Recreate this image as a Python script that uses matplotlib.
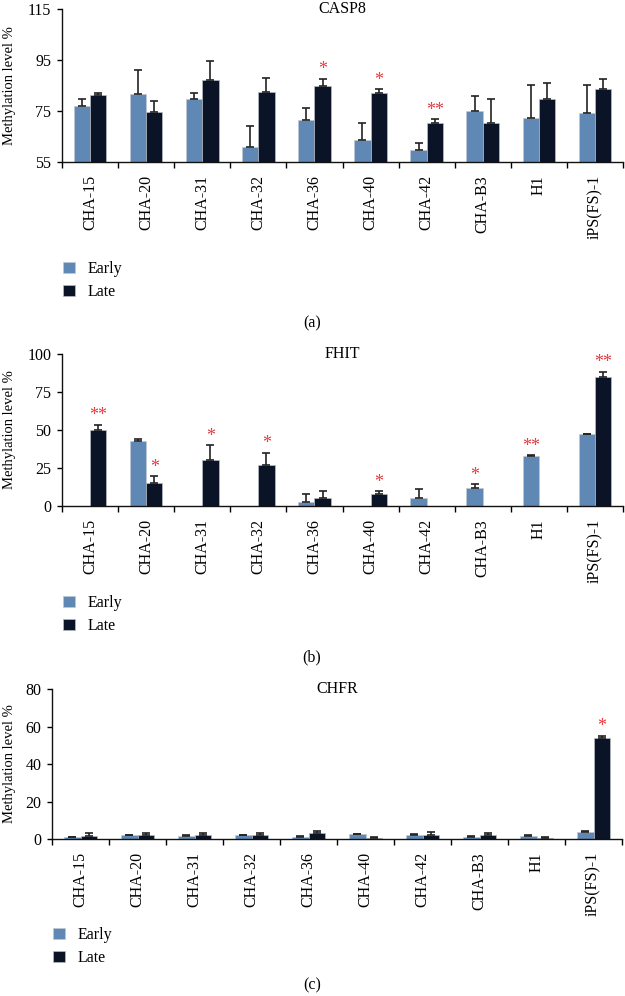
import matplotlib
matplotlib.use("Agg")
import matplotlib.pyplot as plt
import numpy as np

plt.rcParams['font.family'] = ['Liberation Serif', 'DejaVu Serif']

categories = ["CHA-15", "CHA-20", "CHA-31", "CHA-32", "CHA-36", "CHA-40",
              "CHA-42", "CHA-B3", "H1", "iPS(FS)-1"]

casp8_early = [77.1, 81.5, 79.7, 60.9, 71.6, 63.5, 59.6, 75.0, 72.1, 74.3]
casp8_early_err = [2.7, 9.7, 2.5, 8.4, 4.7, 6.8, 2.8, 5.7, 12.9, 10.7]
casp8_late = [81.1, 74.6, 87.1, 82.4, 84.9, 81.9, 70.2, 70.4, 79.8, 83.6]
casp8_late_err = [1.1, 4.3, 7.6, 5.6, 2.7, 1.6, 1.5, 9.2, 6.2, 4.0]
casp8_stars_early = ["", "", "", "", "", "", "", "", "", ""]
casp8_stars_late = ["", "", "", "", "*", "*", "**", "", "", ""]

fhit_early = [0, 42.6, 0, 0, 2.9, 0, 5.5, 12.1, 33.0, 47.3]
fhit_early_err = [0, 1.6, 0, 0, 5.0, 0, 5.7, 2.2, 0.4, 0.3]
fhit_late = [49.9, 15.4, 30.3, 27.3, 5.1, 8.1, 0, 0, 0, 84.8]
fhit_late_err = [3.7, 4.2, 9.7, 7.6, 4.8, 1.6, 0, 0, 0, 3.6]
fhit_stars_early = ["", "", "", "", "", "", "", "*", "**", ""]
fhit_stars_late = ["**", "*", "*", "*", "", "*", "", "", "", "**"]

chfr_early = [0.9, 2.0, 1.8, 2.0, 1.2, 2.5, 2.3, 1.2, 1.6, 3.9]
chfr_early_err = [0.3, 0.4, 0.3, 0.3, 0.4, 0.4, 0.4, 0.5, 0.4, 0.4]
chfr_late = [1.8, 2.0, 2.0, 2.0, 3.0, 0.3, 2.3, 2.3, 0.3, 54.0]
chfr_late_err = [1.2, 1.2, 1.2, 1.2, 1.2, 0.6, 1.4, 1.0, 0.6, 1.1]
chfr_stars_early = ["", "", "", "", "", "", "", "", "", ""]
chfr_stars_late = ["", "", "", "", "", "", "", "", "", "*"]

series_labels = ["Early", "Late"]
titles = ["CASP8", "FHIT", "CHFR"]
panel_tags = ["(a)", "(b)", "(c)"]
yticks_list = [[55, 75, 95, 115], [0, 25, 50, 75, 100], [0, 20, 40, 60, 80]]

EARLY_C = "#6088b4"
LATE_C = "#0a1426"
STAR_C = "#e8383d"

W, H = 625, 996
fig = plt.figure(figsize=(W / 100, H / 100), dpi=100)

# axes boxes in pixels: left, right, top, bottom
boxes = [(62, 623, 9, 162), (62, 623, 354, 506), (52, 622, 689, 839)]
legend_tops = [261, 595, 927]
tag_y = [323, 657, 985]

panels = [
    (casp8_early, casp8_early_err, casp8_late, casp8_late_err, casp8_stars_early, casp8_stars_late),
    (fhit_early, fhit_early_err, fhit_late, fhit_late_err, fhit_stars_early, fhit_stars_late),
    (chfr_early, chfr_early_err, chfr_late, chfr_late_err, chfr_stars_early, chfr_stars_late),
]

x = np.arange(len(categories))
bw = 0.29

for k, (e, ee, l, le, se, sl) in enumerate(panels):
    L, R, T, B = boxes[k]
    ax = fig.add_axes([L / W, 1 - B / H, (R - L) / W, (B - T) / H])
    yt = yticks_list[k]
    b1 = ax.bar(x - bw / 2, e, bw, bottom=0, color=EARLY_C, edgecolor="#c0c8d4",
                linewidth=0.5, label=series_labels[0], zorder=2)
    b2 = ax.bar(x + bw / 2, l, bw, color=LATE_C, edgecolor="#b8bcc4",
                linewidth=0.5, label=series_labels[1], zorder=2)
    ee_arr = np.array(ee)
    le_arr = np.array(le)
    me = ee_arr > 0
    ml = le_arr > 0
    ax.errorbar((x - bw / 2)[me], np.array(e)[me],
                yerr=[np.zeros(me.sum()), ee_arr[me]], fmt="none",
                ecolor="#222222", elinewidth=1.2, capsize=3.2, capthick=1.2, zorder=3)
    ax.errorbar((x + bw / 2)[ml], np.array(l)[ml],
                yerr=[np.zeros(ml.sum()), le_arr[ml]], fmt="none",
                ecolor="#222222", elinewidth=1.2, capsize=3.2, capthick=1.2, zorder=3)
    for i in range(len(categories)):
        if se[i]:
            ax.annotate(se[i], (x[i] - bw / 2, e[i] + ee[i]), xytext=(0, 9),
                        textcoords="offset pixels", ha="center", va="center",
                        color=STAR_C, fontsize=13)
        if sl[i]:
            ax.annotate(sl[i], (x[i] + bw / 2, l[i] + le[i]), xytext=(0, 9),
                        textcoords="offset pixels", ha="center", va="center",
                        color=STAR_C, fontsize=13)
    ax.set_ylim(yt[0], yt[-1])
    ax.set_yticks(yt)
    ax.set_xlim(-0.5, len(categories) - 0.5)
    ax.set_xticks(x)
    ax.set_xticklabels(categories, rotation=90, fontsize=11.5)
    ax.set_xticks(np.arange(len(categories) + 1) - 0.5, minor=True)
    ax.tick_params(axis="x", which="major", length=0, pad=9.5)
    ax.tick_params(axis="x", which="minor", length=4, width=1, direction="out")
    ax.tick_params(axis="y", length=3.6, width=1, direction="out", pad=4, labelsize=11.5)
    for s in ["top", "right"]:
        ax.spines[s].set_visible(False)
    for s in ["left", "bottom"]:
        ax.spines[s].set_linewidth(1.0)
        ax.spines[s].set_color("#111111")
    ax.set_ylabel("Methylation level %", fontsize=10.5)
    ax.yaxis.set_label_coords((16 - L) / (R - L), 0.5)
    ax.text(0.5, 1.0, titles[k], transform=ax.transAxes, ha="center", va="center",
            fontsize=11.5)
    fig.legend(handles=[b1, b2], labels=series_labels, loc="upper left",
               bbox_to_anchor=((L + 1) / W, 1 - legend_tops[k] / H),
               bbox_transform=fig.transFigure, frameon=False, fontsize=11.5,
               handlelength=0.75, handleheight=0.75, handletextpad=0.8,
               labelspacing=0.45, borderpad=0, borderaxespad=0)
    fig.text(312 / W, 1 - tag_y[k] / H, panel_tags[k], ha="center", va="center",
             fontsize=11.5)

fig.savefig("out.png", dpi=100)
